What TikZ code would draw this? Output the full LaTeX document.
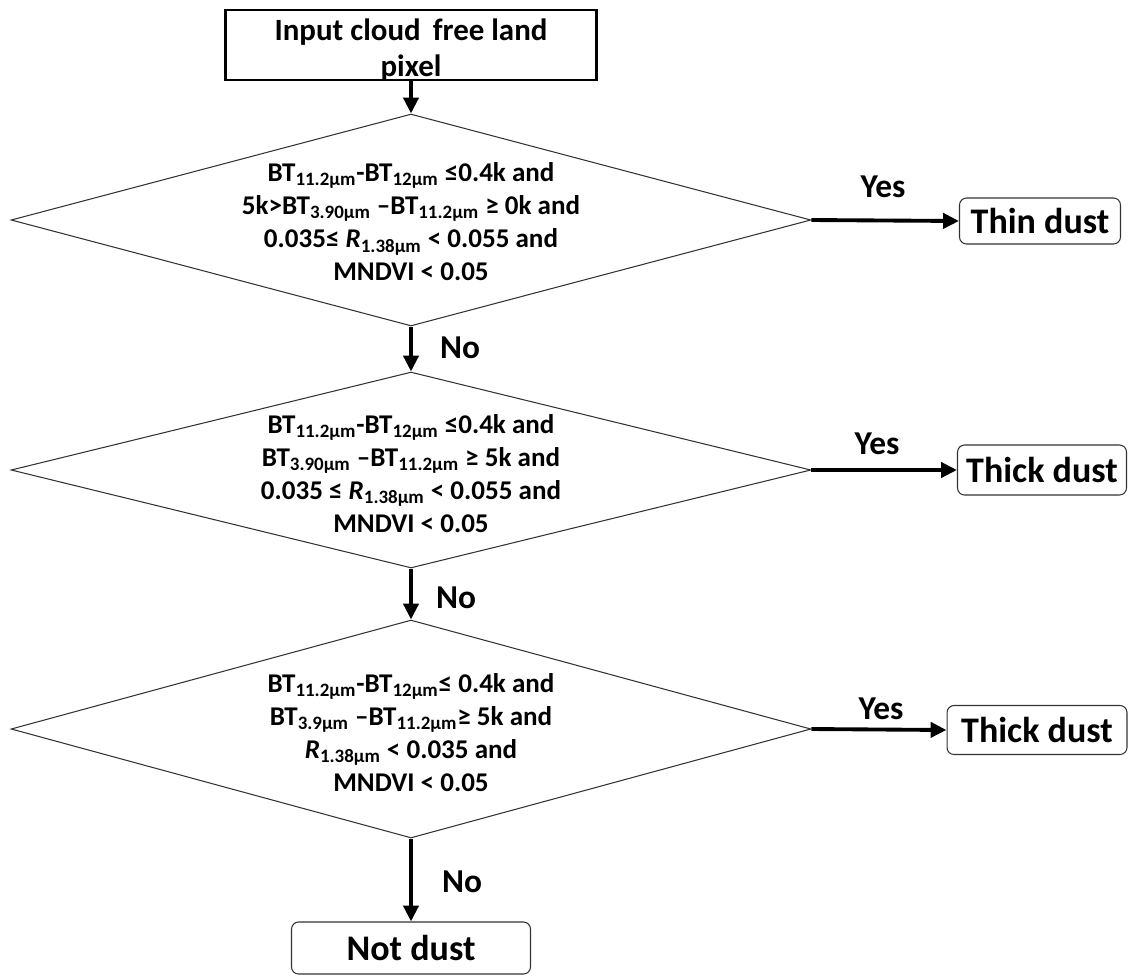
\documentclass[tikz,border=0pt]{standalone}
\usepackage{fontspec}
\setmainfont{Carlito}
\usetikzlibrary{arrows.meta,shapes.geometric}
\newcommand{\sub}[1]{\textsubscript{#1}}
\begin{document}
\begin{tikzpicture}[x=0.02cm,y=-0.02cm,
  dia/.style={draw=black!80,line width=0.6pt,shape=diamond,inner sep=0pt},
  dtext/.style={align=center,font=\bfseries\fontsize{15.4}{18.8}\selectfont,inner sep=0pt},
  result/.style={draw=black!80,line width=0.6pt,rounded corners=4pt,font=\bfseries\fontsize{20.5}{22}\selectfont,inner sep=0pt},
  lab/.style={font=\bfseries\fontsize{19}{21}\selectfont,inner sep=0pt},
  flow/.style={line width=2.2pt,-{Triangle[length=9pt,width=8.5pt]}}]
\useasboundingbox (0,0) rectangle (1143,975);
\node[draw=black,line width=1.4pt,minimum width=7.42cm,minimum height=1.4cm,inner sep=0pt] (in) at (411,45) {};
\node[align=center,font=\bfseries\fontsize{17.6}{20.5}\selectfont,inner sep=0pt] (intext) at ([yshift=-3pt]in.center) {Input cloud\, free land\\pixel};
\node[dia,minimum width=16cm,minimum height=4.24cm] (d1) at (411,220) {};
\node[dtext] (t1) at ([yshift=-1pt]d1.center) {BT\sub{11.2μm}-BT\sub{12μm} ≤0.4k and\\5k>BT\sub{3.90μm} –BT\sub{11.2μm} ≥ 0k and\\0.035≤ \textit{R}\sub{1.38μm} < 0.055 and\\MNDVI < 0.05};
\node[dia,minimum width=16cm,minimum height=3.92cm] (d2) at (411,470) {};
\node[dtext] (t2) at ([yshift=-2pt]d2.center) {BT\sub{11.2μm}-BT\sub{12μm} ≤0.4k and\\BT\sub{3.90μm} –BT\sub{11.2μm} ≥ 5k and\\0.035 ≤ \textit{R}\sub{1.38μm} < 0.055 and\\MNDVI < 0.05};
\node[dia,minimum width=16cm,minimum height=4.36cm] (d3) at (411,729) {};
\node[dtext] (t3) at ([yshift=-2pt]d3.center) {BT\sub{11.2μm}-BT\sub{12μm}≤ 0.4k and\\BT\sub{3.9μm} –BT\sub{11.2μm}≥ 5k and\\\textit{R}\sub{1.38μm} < 0.035 and\\MNDVI < 0.05};
\node[result,minimum width=3.22cm,minimum height=0.92cm] (thin) at (1040,221) {Thin dust};
\node[result,minimum width=3.38cm,minimum height=1.0cm] (thick1) at (1042,470) {Thick dust};
\node[result,minimum width=3.6cm,minimum height=0.98cm] (thick2) at (1037,730) {Thick dust};
\node[result,minimum width=4.78cm,minimum height=1.04cm] (nd) at (411,948) {Not dust};
\draw[flow] (in.south) -- (d1.north);
\draw[flow] (d1.south) -- (d2.north);
\draw[flow] (d2.south) -- (d3.north);
\draw[flow] (d3.south) -- (nd.north);
\draw[flow] (d1.east) -- (thin.west);
\draw[flow] (d2.east) -- (thick1.west);
\draw[flow] (d3.east) -- (thick2.west);
\node[lab] (y1) at (883,187) {Yes};
\node[lab] (y2) at (877,444) {Yes};
\node[lab] (y3) at (881,709) {Yes};
\node[lab] (n1) at (460,348) {No};
\node[lab] (n2) at (456,598) {No};
\node[lab] (n3) at (462,882) {No};
\end{tikzpicture}
\end{document}
